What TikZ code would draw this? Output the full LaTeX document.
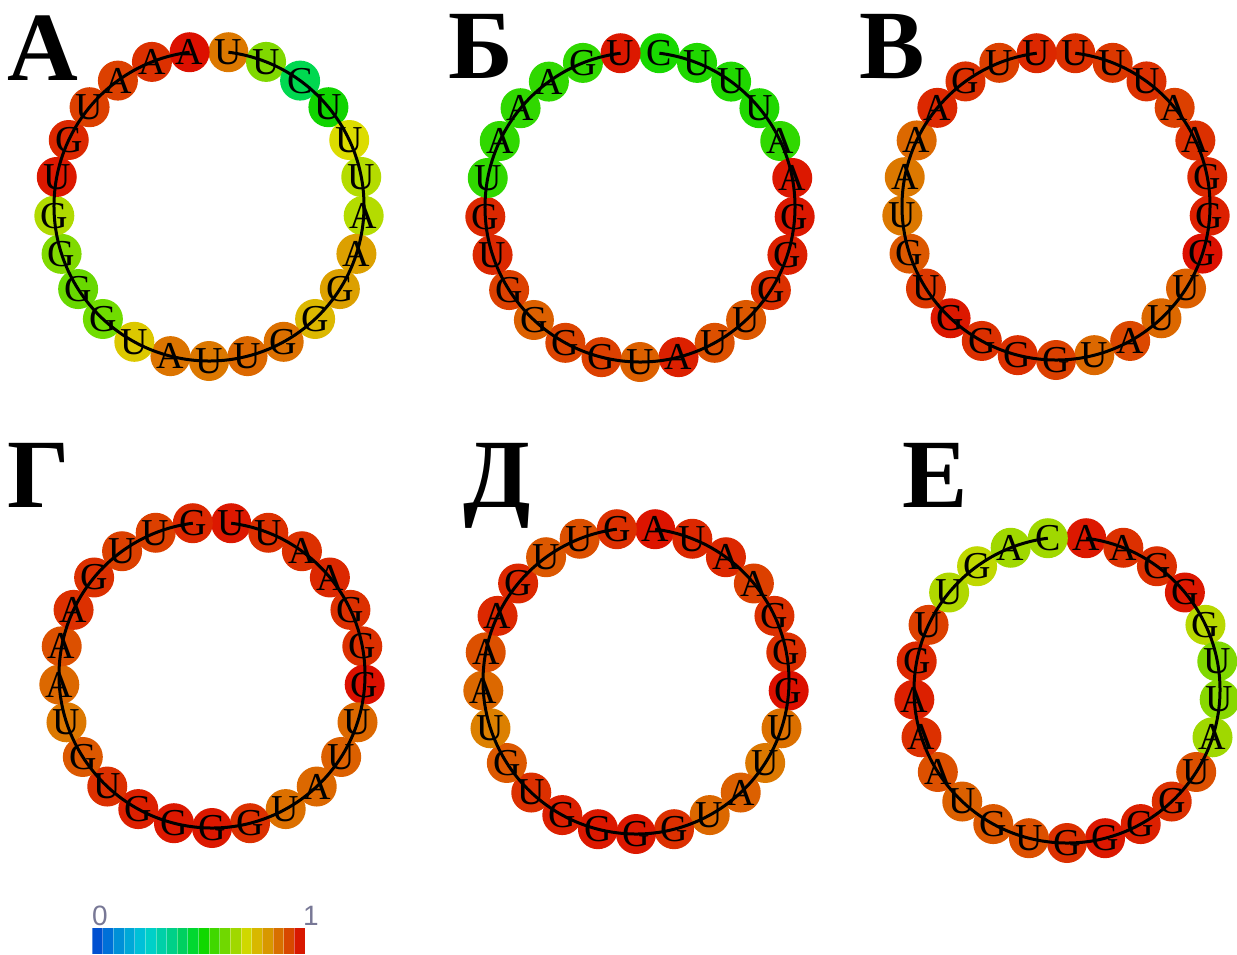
\documentclass[tikz,border=0pt]{standalone}
\usepackage{fontspec}
\setmainfont{Liberation Serif}
\newfontfamily\cbfont{Liberation Sans}
\usetikzlibrary{calc}
\tikzset{
  ntcirc/.style={circle, minimum size=40pt, inner sep=0pt},
  nttext/.style={inner sep=0pt, font=\fontsize{38}{38}\selectfont, text=black},
  backbone/.style={line width=3pt, black},
  plabel/.style={anchor=base, inner sep=0pt, font=\bfseries\fontsize{98}{98}\selectfont},
  cblabel/.style={inner sep=0pt, font=\cbfont\fontsize{28}{28}\selectfont, text={rgb,255:red,120;green,120;blue,150}},
}
% #1 name, #2 centre x, #3 centre y, #4 radius (pt), #5 list letter/HTML colour (clockwise from top)
\newcommand\rnacircle[5]{%
  \coordinate (#1-c) at (#2,#3);
  \foreach \L/\C [count=\k from 0, evaluate=\k as \ang using 82.8-14.4*\k] in {#5} {
    \definecolor{nc}{HTML}{\C}
    \node[ntcirc, fill=nc] (#1-\k) at ($(#1-c)+(\ang:#4pt)$) {};
  }
  \draw[backbone] (#1-0.center) arc[start angle=82.8, end angle=-262.8, radius=#4pt];
  \foreach \L/\C [count=\k from 0] in {#5} {
    \node[nttext] (#1-\k-t) at (#1-\k) {\L};
  }
}
\begin{document}
\begin{tikzpicture}[x=1pt,y=-1pt]
\useasboundingbox (0,0) rectangle (1237,954);
\fill[white] (0,0) rectangle (1237,954);

% panel labels
\node[plabel] (la) at (43,80) {А};
\node[plabel] (lb) at (481,78) {Б};
\node[plabel] (lc) at (892,78) {В};
\node[plabel] (ld) at (39,507) {Г};
\node[plabel] (le) at (497,507) {Д};
\node[plabel] (lf) at (935,507) {Е};

% A
\rnacircle{pa}{209}{206}{155}{U/DC7800,U/80D800,C/00D850,U/10D400,U/DCDC00,U/B4DC00,A/B4DC00,A/DCA000,G/DCA000,G/DCB800,G/DC7000,U/DC6800,U/DC7800,A/DC7400,U/DCC800,G/70DC00,G/68D800,G/80DA00,G/B0DA00,U/DC1800,G/DC2800,U/DC4000,A/DC4000,A/DC3000,A/DC1000}
% B
\rnacircle{pb}{640}{207}{155}{C/18D800,U/20D800,U/20D800,U/20D800,A/30D800,A/DC1800,G/DC1800,G/DC2000,G/DC3000,U/DC5800,U/DC5000,A/DC2000,U/DC6000,G/DC4000,G/DC4400,G/DC6000,G/DC4000,U/DC2800,G/DC2800,U/30D800,A/30D800,A/30D800,A/30D800,G/30D800,U/DC1800}
% C
\rnacircle{pc}{1056}{206}{154}{U/DC3000,U/DC3800,U/DC3000,A/DC4000,A/DC3000,G/DC2800,G/DC2000,G/DC1000,U/DC6000,U/DC6800,A/DC4800,U/DC6800,G/DC4000,G/DC3000,G/DC3000,G/DC1800,U/DC3800,G/DC5800,U/DC7800,A/DC7800,A/DC6800,A/DC2800,G/DC3000,U/DC4000,U/DC2800}
% D
\rnacircle{pd}{212}{675}{153}{U/DC1800,U/DC3000,A/DC3000,A/DC2800,G/DC3000,G/DC3000,G/DC1000,U/DC6800,U/DC6000,A/DC6800,U/DC7000,G/DC3000,G/DC1800,G/DC1800,G/DC2000,U/DC3000,G/DC5800,U/DC7800,A/DC6800,A/DC5000,A/DC3000,G/DC3000,U/DC4000,U/DC4000,G/DC2800}
% E
\rnacircle{pe}{636}{681}{153}{A/DC1400,U/DC2800,A/DC2800,A/DC4000,G/DC3000,G/DC3000,G/DC1000,U/DC7000,U/DC7800,A/DC6000,U/DC6800,G/DC3000,G/DC1800,G/DC1800,G/DC2000,U/DC3000,G/DC5800,U/DC8000,A/DC6800,A/DC5000,A/DC2800,G/DC2800,U/DC5800,U/DC5000,G/DC3000}
% F
\rnacircle{pf}{1067}{690}{153}{A/DC1800,A/DC3000,G/DC3000,G/DC1800,G/B8D800,U/80D800,U/88D800,A/A0D800,U/DC5000,G/DC3000,G/DC2000,G/DC1800,G/DC3000,U/DC5000,G/DC5800,U/DC6000,A/DC5000,A/DC3000,A/DC2000,G/DC2800,U/DC4000,U/B0D800,G/C0D800,A/A0D800,C/A0D800}

% colour bar
\foreach \C [count=\i from 0] in {0050D0,0070D8,0090D8,00A8D8,00C0D8,00D0C8,00D0A8,00D088,00D060,00D830,10D800,40D800,70D800,A0D800,D0D800,D8B800,D89800,D87000,D84800,D81800} {
  \definecolor{bc}{HTML}{\C}
  \fill[bc] ({92+10.65*\i},928) rectangle ({92+10.65*(\i+1)},954);
  \draw[white, opacity=0.35, line width=0.8pt] ({92+10.65*\i},928) -- ({92+10.65*\i},954);
}
\node[cblabel] (c0) at (100,916) {0};
\node[cblabel] (c1) at (311,916) {1};
\end{tikzpicture}
\end{document}
